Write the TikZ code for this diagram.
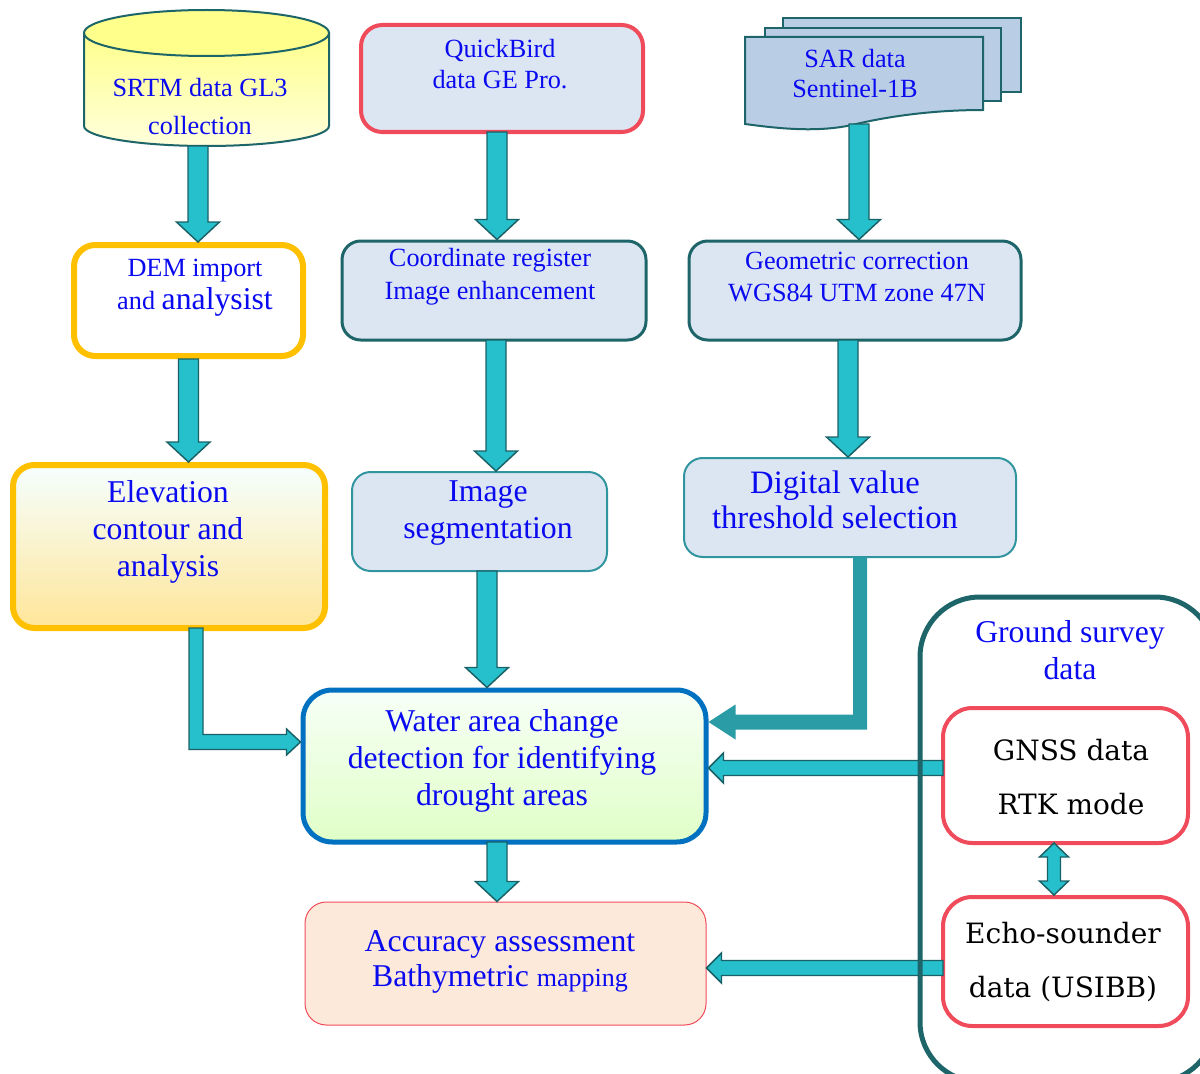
\documentclass[tikz,border=0pt]{standalone}
\usepackage{fontspec}
\setmainfont{Liberation Serif}
\newfontfamily\surveyfont{DejaVu Serif}
\usetikzlibrary{calc,fit}

\definecolor{arrowfill}{HTML}{26BFCC}
\definecolor{arrowline}{HTML}{1A6166}
\definecolor{sararrow}{HTML}{2A9CA6}
\definecolor{boxfill}{HTML}{DCE6F2}
\definecolor{boxteal}{HTML}{1D6569}
\definecolor{lightteal}{HTML}{31959F}
\definecolor{redline}{HTML}{F04B5A}
\definecolor{orangeline}{HTML}{FFC000}
\definecolor{waterline}{HTML}{0070C0}
\definecolor{peach}{HTML}{FDE9D9}
\definecolor{docfill}{HTML}{B9CDE4}
\definecolor{txtblue}{HTML}{0A0AF0}
\definecolor{cyltop}{HTML}{FFFF8C}
\definecolor{cylbot}{HTML}{FFFFDC}

\tikzset{every picture/.style={line width=0.75pt}}
\tikzset{
  blockarrow/.style={fill=arrowfill, draw=arrowline, line width=1.1pt, line join=miter},
  orangebox/.style={draw=orangeline, line width=4.5pt, rounded corners=16pt, inner sep=0pt},
  redbox/.style={draw=redline, line width=3pt, rounded corners=16pt, fill=boxfill, inner sep=0pt},
  tealbox/.style={draw=boxteal, line width=2.25pt, rounded corners=14pt, fill=boxfill, inner sep=0pt},
  lightbox/.style={draw=lightteal, line width=1.5pt, rounded corners=14pt, fill=boxfill, inner sep=0pt},
  waterbox/.style={draw=waterline, line width=3.75pt, rounded corners=22pt, top color=white!60!green!8, bottom color=green!55!yellow!22, inner sep=0pt},
  accbox/.style={draw=redline, line width=0.75pt, rounded corners=16pt, fill=peach, inner sep=0pt},
  surveybox/.style={draw=redline, line width=3pt, rounded corners=22pt, fill=white, inner sep=0pt},
  surveytxt/.style={align=center, inner sep=0.75pt, font=\surveyfont\fontsize{21}{40}\selectfont},
  groundbox/.style={draw=boxteal, line width=3.75pt, rounded corners=45pt, inner sep=0pt},
  docpage/.style={draw=boxteal, line width=1.5pt, fill=docfill},
  txtS/.style={text=txtblue, align=center, inner sep=0.75pt, font=\fontsize{19.7}{24.5}\selectfont},
  txtL/.style={text=txtblue, align=center, inner sep=0.75pt, font=\fontsize{23.8}{27.5}\selectfont}
}

% down block arrow: start, target
\newcommand{\downblock}[2]{%
  \draw[blockarrow] ($(#1)+(-10,0)$) -- ($(#1|-#2)+(-10,-20)$) -- ($(#1|-#2)+(-21.5,-20)$) -- (#1|-#2)
    -- ($(#1|-#2)+(21.5,-20)$) -- ($(#1|-#2)+(10,-20)$) -- ($(#1)+(10,0)$) -- cycle;}
% left block arrow: start, target
\newcommand{\leftblock}[2]{%
  \draw[blockarrow] ($(#1)+(0,-7.5)$) -- ($(#2|-#1)+(15,-7.5)$) -- ($(#2|-#1)+(15,-15)$) -- (#2|-#1)
    -- ($(#2|-#1)+(15,15)$) -- ($(#2|-#1)+(15,7.5)$) -- ($(#1)+(0,7.5)$) -- cycle;}

\begin{document}
\begin{tikzpicture}[x=0.75pt,y=0.75pt,yscale=-1,xscale=1]
\useasboundingbox (0,0) rectangle (1200,1074);

%Shape: Can
\draw[draw=boxteal, line width=1.5pt, top color=cyltop, bottom color=cylbot] (84,33) -- (84,126) arc[start angle=180, end angle=0, x radius=122.5, y radius=20] -- (329,33) -- cycle;
\draw[draw=boxteal, line width=1.5pt, fill=cyltop] (206.5,33) ellipse [x radius=122.5, y radius=23];
\coordinate (srtm-out) at (198,146);

%Shape: Multidocument
\draw[docpage] (783,18) rectangle (1021,92);
\draw[docpage] (765,28) rectangle (1001,101);
\draw[docpage] (745,37) -- (983,37) -- (983,110) .. controls (930,110) and (885,117) .. (852,125) .. controls (815,133) and (775,128) .. (745,124) -- cycle;
\coordinate (sar-out) at (859,124);

%Shape: Rounded Rectangles
\node[redbox, fit={(361,25) (643,132)}] (qb) {};
\node[orangebox, fill=white, fit={(74,245) (303,356)}] (dem) {};
\node[tealbox, fit={(342,241) (646,340)}] (coord) {};
\node[tealbox, fit={(689,241) (1021,340)}] (geo) {};
\node[orangebox, top color=cyan!4!white, bottom color=orangeline!40!white, fit={(13,465) (325,628)}] (elev) {};
\node[lightbox, fit={(352,472) (607,571)}] (seg) {};
\node[lightbox, fit={(684,458) (1016,557)}] (dig) {};
\node[waterbox, fit={(303,690) (706,842)}] (water) {};
\node[accbox, fit={(305,902) (706,1025)}] (acc) {};
\node[surveybox, fit={(943,708) (1188,843)}] (gnss) {};
\node[surveybox, fit={(943,897) (1188,1026)}] (echo) {};

% Text Node
\node[txtS, font=\fontsize{19.7}{28.5}\selectfont] (srtmtxt) at (200,107) {SRTM data GL3\\collection};
% Text Node
\node[txtS, font=\fontsize{19.7}{23.3}\selectfont] (qbtxt) at (500,64) {QuickBird\\data GE Pro.};
% Text Node
\node[txtS, font=\fontsize{19.7}{22.5}\selectfont] (sartxt) at (855,74) {SAR data\\Sentinel-1B};
% Text Node
\node[txtS] (demtxt) at (195,288) {DEM import\\and {\fontsize{23.8}{25}\selectfont analysist}};
% Text Node
\node[txtS] (coordtxt) at (490,277) {Coordinate register\\Image enhancement};
% Text Node
\node[txtS] (geotxt) at (857,277) {Geometric correction\\WGS84 UTM zone 47N};
% Text Node
\node[txtL] (elevtxt) at (168,532) {Elevation\\contour and\\analysis};
% Text Node
\node[txtL] (segtxt) at (488,513) {Image\\segmentation};
% Text Node
\node[txtL, font=\fontsize{24.5}{26.3}\selectfont] (digtxt) at (835,500) {Digital value\\threshold selection};
% Text Node
\node[txtL] (watertxt) at (502,761) {Water area change\\detection for identifying\\drought areas};
% Text Node
\node[txtL, font=\fontsize{23.8}{26.3}\selectfont] (acctxt) at (500,962) {Accuracy assessment\\Bathymetric {\fontsize{19.5}{20}\selectfont mapping}};
% Text Node
\node[txtL] (groundtxt) at (1070,650) {Ground survey\\data};
% Text Node
\node[surveytxt] (gnsstxt) at (1071,777) {GNSS data\\RTK mode};
% Text Node
\node[surveytxt] (echotxt) at (1063,962) {Echo-sounder\\data (USIBB)};

% named ends
\coordinate (qb-out) at (497,132);
\coordinate (coord-out) at (496,340);
\coordinate (seg-out) at (487,571);
\coordinate (geo-out) at (848,340);
\coordinate (dig-out) at (860,557);
\coordinate (elev-out) at (196,628);
\coordinate (water-out) at (497,842);
\coordinate (water-l) at ($(water.west)+(0,-24)$);
\coordinate (water-r) at ($(water.east)+(0,-44)$);
\coordinate (gnss-out) at (943,768);
\coordinate (echo-out) at (943,968);
\coordinate (gnss-s) at (1054,843);

% Connectors
\downblock{srtm-out}{dem.north}
\downblock{dem.south}{elev.north}
\downblock{qb-out}{coord.north}
\downblock{coord-out}{seg.north}
\downblock{seg-out}{water.north}
\downblock{sar-out}{geo.north}
\downblock{geo-out}{dig.north}
\downblock{water-out}{acc.north}
\leftblock{gnss-out}{water.east}
\leftblock{echo-out}{acc.east}

% elbow from elevation
\draw[blockarrow] ($(elev-out)+(-7,0)$) -- ($(elev-out|-water-l)+(-7,7.5)$) -- ($(water-l)+(-14,7.5)$) -- ($(water-l)+(-14,13)$) -- (water-l)
  -- ($(water-l)+(-14,-13)$) -- ($(water-l)+(-14,-7.5)$) -- ($(elev-out|-water-l)+(7,-7.5)$) -- ($(elev-out)+(7,0)$) -- cycle;
% elbow from threshold
\draw[fill=sararrow, draw=none] ($(dig-out)+(-7,0)$) -- ($(dig-out|-water-r)+(-7,-7.5)$) -- ($(water-r)+(27,-7.5)$) -- ($(water-r)+(27,-17.5)$) -- (water-r)
  -- ($(water-r)+(27,17.5)$) -- ($(water-r)+(27,7.5)$) -- ($(dig-out|-water-r)+(7,7.5)$) -- ($(dig-out)+(7,0)$) -- cycle;
% double arrow GNSS - echo
\draw[blockarrow] (gnss-s) -- ($(gnss-s)+(14.5,14)$) -- ($(gnss-s)+(6.5,14)$) -- ($(gnss-s|-echo.north)+(6.5,-14)$) -- ($(gnss-s|-echo.north)+(14.5,-14)$) -- (gnss-s|-echo.north)
  -- ($(gnss-s|-echo.north)+(-14.5,-14)$) -- ($(gnss-s|-echo.north)+(-6.5,-14)$) -- ($(gnss-s)+(-6.5,14)$) -- ($(gnss-s)+(-14.5,14)$) -- cycle;

%Shape: Rounded Rectangle
\node[groundbox, fit={(920,597) (1215,1082)}] (ground) {};

\end{tikzpicture}
\end{document}
